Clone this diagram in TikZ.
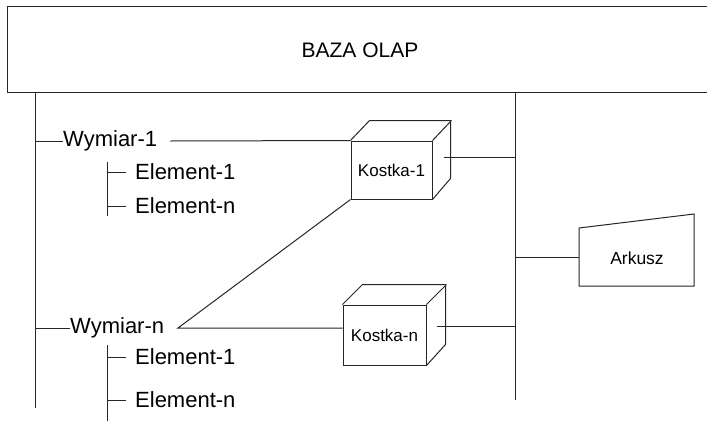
\documentclass[tikz,border=0pt]{standalone}
\usepackage{fontspec}
\setmainfont{Liberation Sans}
\begin{document}
\begin{tikzpicture}[x=1pt,y=-1pt,
  line/.style={draw=black!85,line width=1pt},
  lbl/.style={inner sep=0pt,anchor=west,font=\fontsize{22}{26}\selectfont},
  cubefront/.style={line,fill=white,inner sep=0pt,font=\fontsize{17}{20}\selectfont},
  cubeback/.style={line,line join=round}]
\useasboundingbox[fill=white] (0,0) rectangle (707,421);

% database header
\node[line,minimum width=720,minimum height=86,inner sep=0pt,anchor=north west] (baza) at (7,6) {};
\node[font=\fontsize{21}{25}\selectfont] (bazat) at (360,50) {BAZA OLAP};

% trunks
\coordinate (lt) at (35,92);  \coordinate (lb) at (35,408);
\coordinate (rt) at (515,92); \coordinate (rb) at (515,400);
\draw[line] (lt) -- (lb);
\draw[line] (rt) -- (rb);

% cubes
\node[cubefront,minimum width=81,minimum height=58] (k1) at (391.5,170) {Kostka-1};
\draw[cubeback] (k1.north west) -- ++(19,-20) -- ++(81,0) -- ++(0,58) -- (k1.south east);
\draw[cubeback] (k1.north east) -- ++(19,-20);
\node[cubefront,minimum width=83,minimum height=60] (kn) at (384.5,335) {Kostka-n};
\draw[cubeback] (kn.north west) -- ++(20,-20) -- ++(83,0) -- ++(0,60) -- (kn.south east);
\draw[cubeback] (kn.north east) -- ++(20,-20);

% dimension 1
\coordinate (w1l) at (35,141);
\node[lbl] (w1) at (63,141) {Wymiar-1};
\draw[line] (w1l) -- (w1.west);
\draw[line] ([xshift=13pt]w1.east) -- (k1.north west);
\coordinate (e1t) at (107,162); \coordinate (e1b) at (107,216);
\draw[line] (e1t) -- (e1b);
\node[lbl] (e11) at (135,172) {Element-1};
\node[lbl] (e1n) at (135,206) {Element-n};
\draw[line] (e11.west -| e1t) -- ([xshift=-9pt]e11.west);
\draw[line] (e1n.west -| e1t) -- ([xshift=-9pt]e1n.west);

% dimension n
\coordinate (wnl) at (35,328);
\node[lbl] (wn) at (70,328) {Wymiar-n};
\coordinate (wnr) at (178,328);
\draw[line] (wnl) -- (wn.west);
\draw[line] (k1.south west) -- (wnr) -- (kn.west |- wnr);
\coordinate (e2t) at (107,345); \coordinate (e2b) at (107,421);
\draw[line] (e2t) -- (e2b);
\node[lbl] (e21) at (135,357) {Element-1};
\node[lbl] (e2n) at (135,400) {Element-n};
\draw[line] (e21.west -| e2t) -- ([xshift=-9pt]e21.west);
\draw[line] (e2n.west -| e2t) -- ([xshift=-9pt]e2n.west);

% cube links to the right trunk
\draw[line] ([xshift=11pt]k1.east |- 0,157) -- (rt |- 0,157);
\draw[line] ([xshift=10pt]kn.east |- 0,326) -- (rt |- 0,326);

% spreadsheet
\draw[line] (579,228) -- (694,214) -- (694,286) -- (579,286) -- cycle;
\node[font=\fontsize{17.5}{21}\selectfont] (ark) at (637,258) {Arkusz};
\coordinate (arkin) at (579,257);
\draw[line] (rt |- arkin) -- (arkin);
\end{tikzpicture}
\end{document}
